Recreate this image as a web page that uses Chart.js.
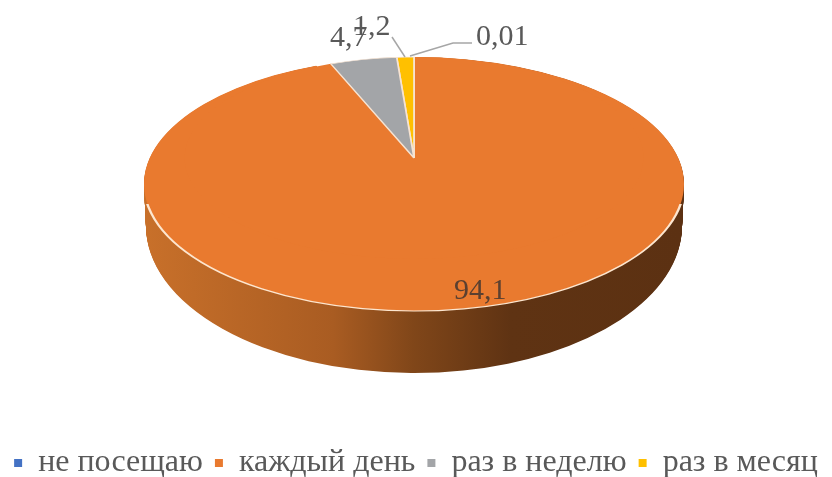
<!DOCTYPE html>
<html>
<head>
<meta charset="utf-8">
<style>
  body { margin: 0; background: #fff; }
  canvas { display: block; }
</style>
<script src="https://cdn.jsdelivr.net/npm/chart.js@4"></script>
</head>
<body>
<canvas id="myChart" width="832" height="477"></canvas>
<script>
const categories = ['не посещаю', 'каждый день', 'раз в неделю', 'раз в месяц'];
const values = [0.01, 94.1, 4.7, 1.2];
const colors = ['#4472c4', '#e97a2f', '#a3a5a8', '#ffc000'];

// where the value texts go, same order as categories
const labelPos = [[476, 45], [454, 299], [330, 46], [353, 35]];
// leader lines for the small slices
const leaders = [
  [[410, 56], [453, 43], [472, 43]],
  [[392, 37], [405, 57]]
];

const R = 270;
// the picture has perspective: rim ellipse, bottom ellipse and slice apex do not share a centre
const rim = { x: 414, y: 184, sx: 1, sy: 127 / R };
const bottom = { x: 414, y: 226, sx: 268 / R, sy: 147 / R };
const apex = { x: 414, y: 158, sx: 0.85, sy: 101 / R };
const sideSteps = 70;

function drawArc(ctx, arc, view, opts) {
  const saved = arc.options;
  arc.options = Object.assign({}, saved, opts);
  ctx.save();
  ctx.translate(view.x, view.y);
  ctx.scale(view.sx, view.sy);
  ctx.translate(-arc.x, -arc.y);
  arc.draw(ctx);
  ctx.restore();
  arc.options = saved;
}

const pie3d = {
  id: 'pie3d',
  beforeDatasetsDraw(chart) {
    const ctx = chart.ctx;
    const arcs = chart.getDatasetMeta(0).data;
    const main = arcs[1];

    const side = ctx.createLinearGradient(main.x - R, 0, main.x + R, 0);
    side.addColorStop(0, '#c8702a');
    side.addColorStop(0.35, '#a95c22');
    side.addColorStop(0.5, '#804619');
    side.addColorStop(0.68, '#5f3313');
    side.addColorStop(1, '#5c3112');
    for (let s = sideSteps; s > 0; s--) {
      const t = s / sideSteps;
      const view = {
        x: rim.x,
        y: rim.y + (bottom.y - rim.y) * t,
        sx: rim.sx + (bottom.sx - rim.sx) * t,
        sy: rim.sy + (bottom.sy - rim.sy) * t
      };
      drawArc(ctx, main, view, { backgroundColor: side, borderWidth: 0 });
    }

    drawArc(ctx, main, rim, { borderWidth: 0 });
    drawArc(ctx, main, apex, { borderWidth: 0 });

    // cream line only along the front rim
    ctx.save();
    ctx.beginPath();
    ctx.rect(0, 204, chart.width, chart.height);
    ctx.clip();
    drawArc(ctx, main, rim, { backgroundColor: 'transparent', borderColor: '#fde6cf', borderWidth: 2.5 });
    ctx.restore();

    [0, 3, 2].forEach(i => {
      drawArc(ctx, arcs[i], apex, { borderColor: '#f6e3d2', borderWidth: 2 });
    });
    return false;
  },
  afterDraw(chart) {
    const ctx = chart.ctx;
    ctx.save();
    ctx.strokeStyle = '#a6a6a6';
    ctx.lineWidth = 1.5;
    leaders.forEach(line => {
      ctx.beginPath();
      line.forEach((p, i) => i ? ctx.lineTo(p[0], p[1]) : ctx.moveTo(p[0], p[1]));
      ctx.stroke();
    });
    ctx.font = '30px "Liberation Serif"';
    ctx.textBaseline = 'alphabetic';
    values.forEach((v, i) => {
      ctx.fillStyle = i === 1 ? '#5b4030' : '#595959';
      ctx.fillText(String(v).replace('.', ','), labelPos[i][0], labelPos[i][1]);
    });
    ctx.restore();
  }
};

new Chart(document.getElementById('myChart'), {
  type: 'pie',
  data: {
    labels: categories,
    datasets: [{ data: values, backgroundColor: colors, borderWidth: 0 }]
  },
  options: {
    responsive: false,
    animation: false,
    radius: R,
    layout: { padding: { bottom: -12 } },
    plugins: {
      tooltip: { enabled: false },
      legend: {
        position: 'bottom',
        labels: {
          color: '#595959',
          font: { family: '"Liberation Serif"', size: 32 },
          boxWidth: 8,
          boxHeight: 8,
          padding: 12
        }
      }
    }
  },
  plugins: [pie3d]
});
</script>
</body>
</html>
